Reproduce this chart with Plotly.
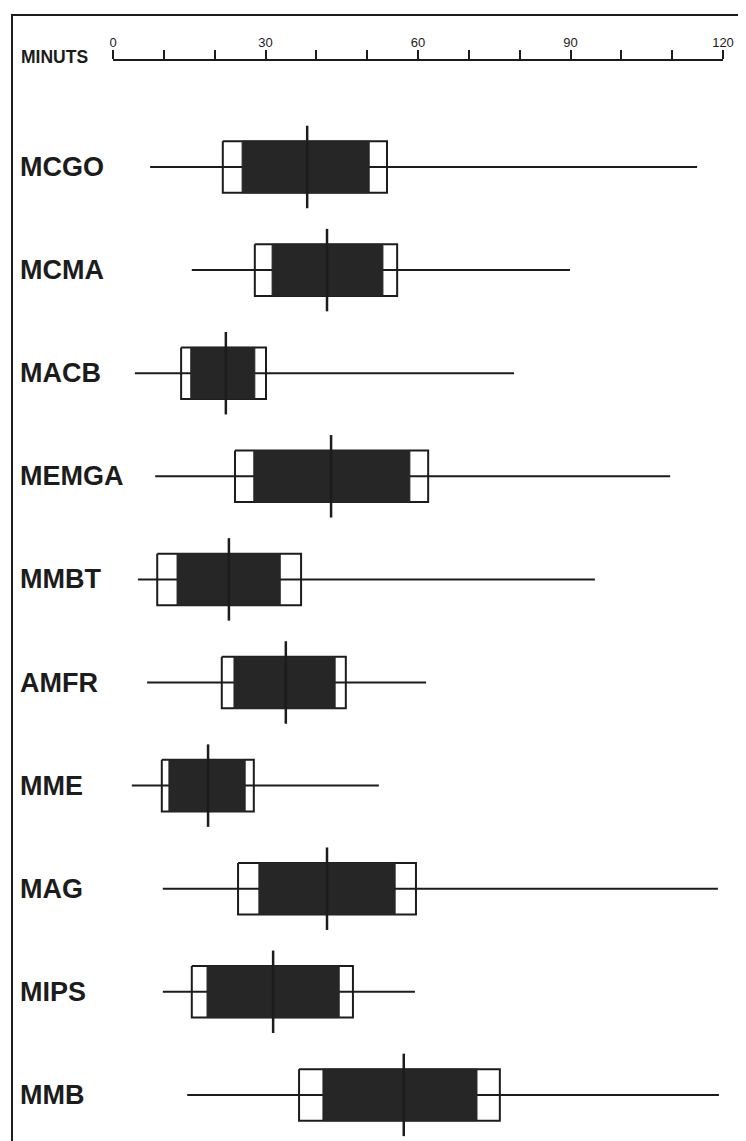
import plotly.graph_objects as go

categories = ["MCGO", "MCMA", "MACB", "MEMGA", "MMBT", "AMFR", "MME", "MAG", "MIPS", "MMB"]
whisker_low = [7.3, 15.5, 4.3, 8.3, 4.9, 6.7, 3.7, 9.8, 9.8, 14.6]
outer_low = [21.6, 27.9, 13.4, 24.0, 8.7, 21.4, 9.6, 24.6, 15.5, 36.6]
inner_low = [25.4, 31.3, 15.3, 27.7, 12.6, 23.8, 11.0, 28.7, 18.5, 41.3]
median = [38.2, 42.1, 22.2, 42.9, 22.8, 34.0, 18.7, 42.1, 31.5, 57.2]
inner_high = [50.4, 53.1, 27.9, 58.4, 32.9, 43.7, 26.0, 55.5, 44.5, 71.6]
outer_high = [53.9, 55.9, 30.1, 62.0, 37.0, 45.8, 27.7, 59.6, 47.2, 76.1]
whisker_high = [114.9, 89.9, 78.9, 109.6, 94.8, 61.6, 52.3, 119.0, 59.4, 119.2]

major_ticks = [0, 30, 60, 90, 120]
axis_title = "MINUTS"

INK = "#1c1c1c"
FILL = "#262626"
BOX_H = 0.25
MED_H = 0.40

OFF = 8  # default page body margin
W, H = 746 - OFF, 1141 - OFF
ML, MR, MT, MB = 113 - OFF, 23, 61 - OFF, 0
PW, PH = W - ML - MR, H - MT - MB
ROW_PX = 103.1
FIRST_ROW_PX = 167 - OFF
y_top = -(FIRST_ROW_PX - MT) / ROW_PX
y_bot = y_top + PH / ROW_PX


def px_x(px):
    return (px - OFF - ML) / PW


def px_y(py):
    return (H - (py - OFF)) / PH


def rects(lo, hi):
    xs, ys = [], []
    for i, (a, b) in enumerate(zip(lo, hi)):
        xs += [a, b, b, a, a, None]
        ys += [i - BOX_H, i - BOX_H, i + BOX_H, i + BOX_H, i - BOX_H, None]
    return xs, ys


def hsegs(lo, hi):
    xs, ys = [], []
    for i, (a, b) in enumerate(zip(lo, hi)):
        xs += [a, b, None]
        ys += [i, i, None]
    return xs, ys


def vsegs(vals):
    xs, ys = [], []
    for i, v in enumerate(vals):
        xs += [v, v, None]
        ys += [i - MED_H, i + MED_H, None]
    return xs, ys


fig = go.Figure()

ox, oy = rects(outer_low, outer_high)
fig.add_trace(go.Scatter(x=ox, y=oy, mode="lines", fill="toself", fillcolor="white",
                         line=dict(color=INK, width=2), hoverinfo="skip"))
wx, wy = hsegs(whisker_low, whisker_high)
fig.add_trace(go.Scatter(x=wx, y=wy, mode="lines", line=dict(color=INK, width=2), hoverinfo="skip"))
ix, iy = rects(inner_low, inner_high)
fig.add_trace(go.Scatter(x=ix, y=iy, mode="lines", fill="toself", fillcolor=FILL,
                         line=dict(color=FILL, width=1), hoverinfo="skip"))
mx, my = vsegs(median)
fig.add_trace(go.Scatter(x=mx, y=my, mode="lines", line=dict(color=INK, width=2.5), hoverinfo="skip"))

for i, name in enumerate(categories):
    fig.add_annotation(x=px_x(18), xref="paper", y=i, yref="y", text=f"<b>{name}</b>",
                       showarrow=False, xanchor="left", yanchor="middle",
                       font=dict(family="Liberation Sans", size=27, color=INK))

fig.add_annotation(x=px_x(19), xref="paper", y=px_y(57), yref="paper",
                   text=f"<b>{axis_title}</b>", showarrow=False, xanchor="left", yanchor="middle",
                   font=dict(family="Liberation Sans", size=17.5, color=INK))

# frame
fig.add_shape(type="rect", xref="paper", yref="paper",
              x0=px_x(12), x1=px_x(739),
              y0=-0.02, y1=px_y(15),
              line=dict(color=INK, width=2), fillcolor="rgba(0,0,0,0)")

fig.update_xaxes(range=[0, 120], side="top", showline=True, linewidth=2, linecolor=INK,
                 ticks="outside", ticklen=9, tickwidth=2, tickcolor=INK,
                 tickvals=major_ticks, ticktext=[str(t) for t in major_ticks],
                 minor=dict(dtick=10, ticks="outside", ticklen=9, tickwidth=2, tickcolor=INK, showgrid=False),
                 showgrid=False, zeroline=False, ticklabelstandoff=-2,
                 tickfont=dict(family="Liberation Sans", size=13, color=INK))
fig.update_yaxes(range=[y_bot, y_top], visible=False, showgrid=False, zeroline=False)

fig.update_layout(width=W, height=H, margin=dict(l=ML, r=MR, t=MT, b=MB),
                  paper_bgcolor="white", plot_bgcolor="white", showlegend=False)

fig.write_html("out.html")
